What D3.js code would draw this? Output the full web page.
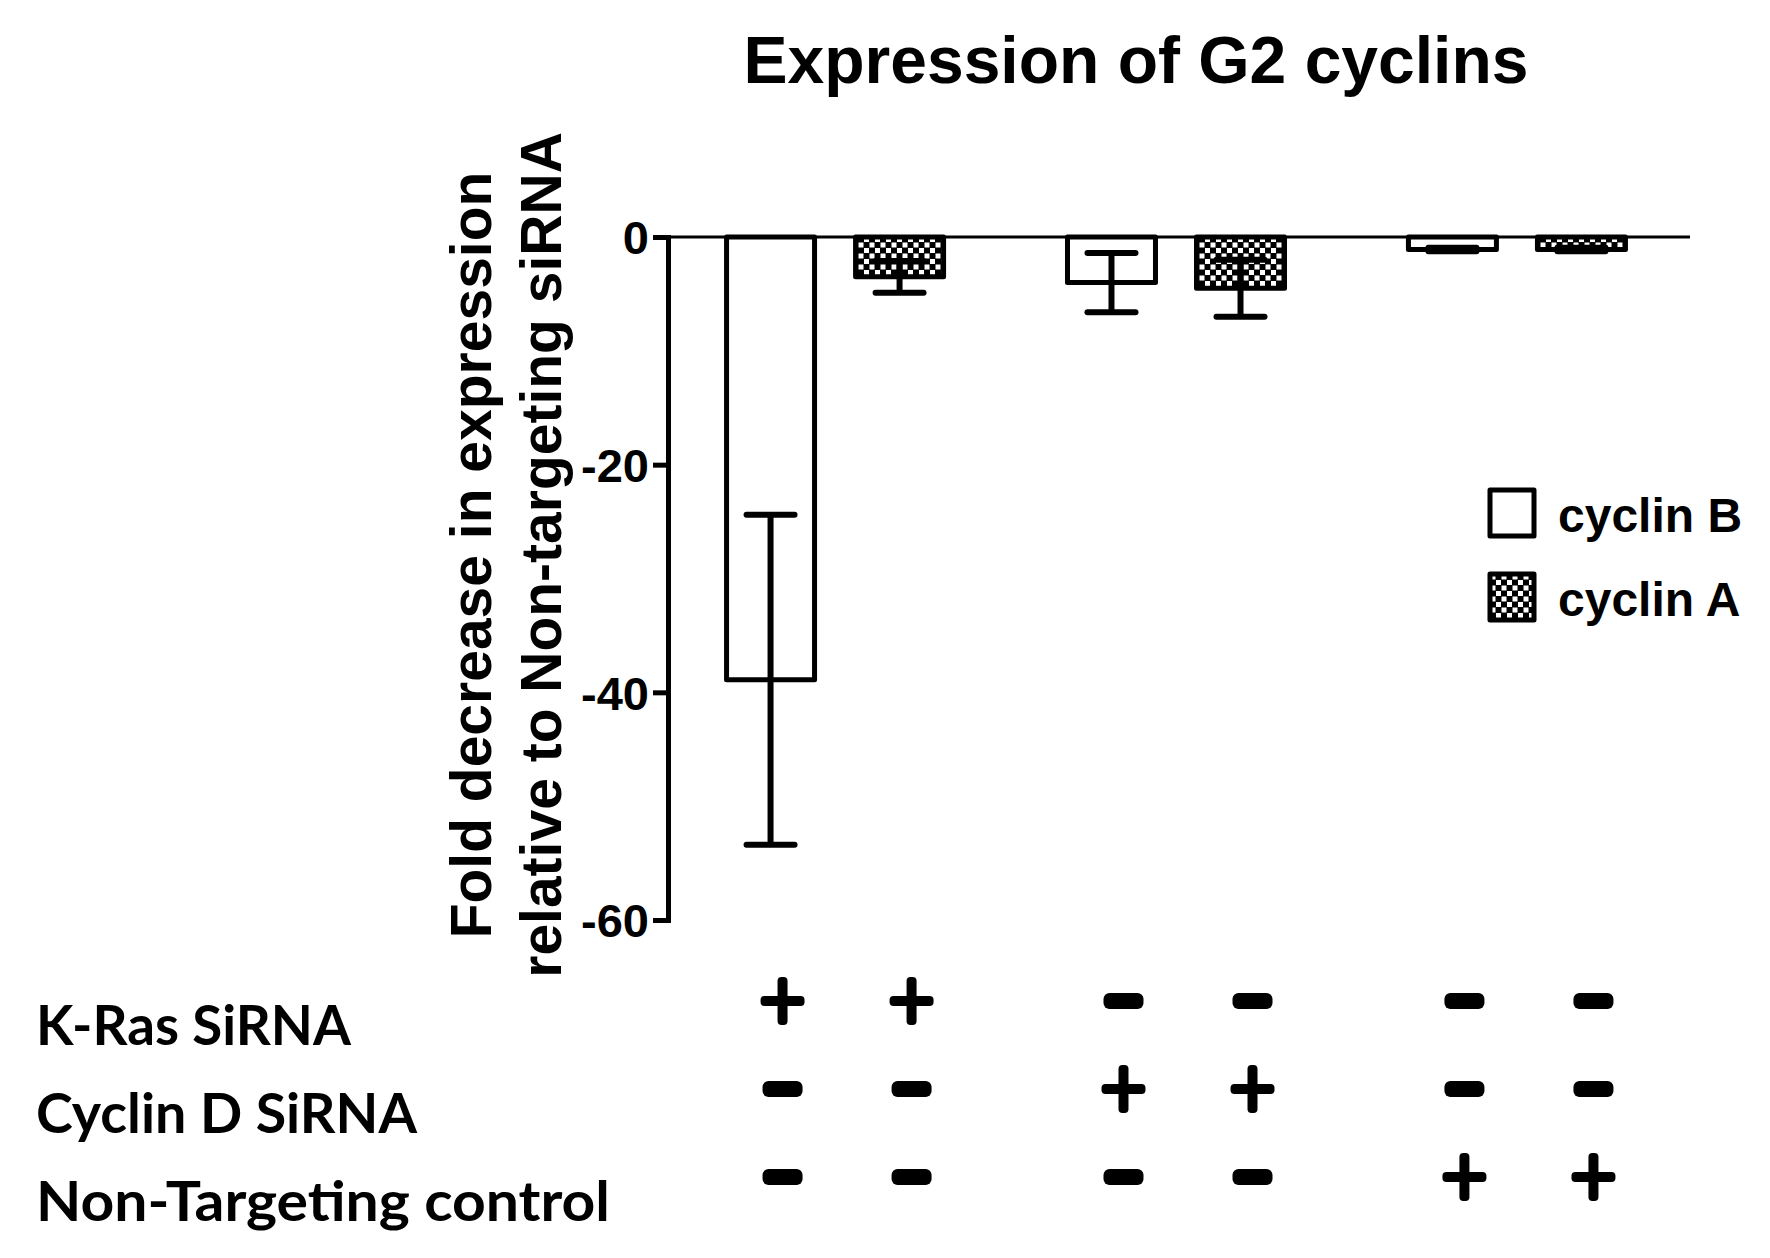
<!DOCTYPE html>
<html>
<head>
<meta charset="utf-8">
<script src="https://cdn.jsdelivr.net/npm/d3@7"></script>
<style>
  body { margin: 0; background: #fff; }
  text { fill: #000; }
</style>
</head>
<body>
<svg id="chart"></svg>
<script>
// values
const groups = ["K-Ras", "Cyclin D", "Non-Targeting"];
const series = ["cyclin B", "cyclin A"];
const cyclinB = [-38.9, -4.0, -1.1];
const cyclinBErr = [14.5, 2.6, 0.15];
const cyclinA = [-3.5, -4.5, -1.1];
const cyclinAErr = [1.4, 2.5, 0.15];
const yTicks = [0, -20, -40, -60];
const rowLabels = ["K-Ras SiRNA", "Cyclin D SiRNA", "Non-Targeting control"];
const kRasSigns = ["+", "+", "-", "-", "-", "-"];
const cyclinDSigns = ["-", "-", "+", "+", "-", "-"];
const controlSigns = ["-", "-", "-", "-", "+", "+"];

const W = 1770, H = 1258;

const svg = d3.select("#chart")
    .attr("width", W)
    .attr("height", H);

// checker fill for cyclin A
const pat = svg.append("defs").append("pattern")
    .attr("id", "checker")
    .attr("patternUnits", "userSpaceOnUse")
    .attr("width", 11)
    .attr("height", 11);
pat.append("rect").attr("width", 11).attr("height", 11).attr("fill", "#000");
pat.append("rect").attr("x", 0.5).attr("y", 0.5).attr("width", 5).attr("height", 5).attr("fill", "#fff");
pat.append("rect").attr("x", 6).attr("y", 6).attr("width", 5).attr("height", 5).attr("fill", "#fff");

const fills = { "cyclin B": "#fff", "cyclin A": "url(#checker)" };

let yScale = d3.scaleLinear()
    .domain([0, -60])
    .range([237, 920]);

let xGroup = d3.scaleBand()
    .domain(groups)
    .range([668, 1684])
    .paddingInner(0.2)
    .paddingOuter(0.09);

let xInner = d3.scaleBand()
    .domain(series)
    .range([0, xGroup.bandwidth()])
    .paddingInner(0.318)
    .paddingOuter(0.216);

// title
svg.append("text")
    .attr("x", 1136)
    .attr("y", 83)
    .attr("text-anchor", "middle")
    .style("font", "bold 66px 'Liberation Sans', Arial, sans-serif")
    .text("Expression of G2 cyclins");

// y axis title, two lines
const yTitle = svg.append("text")
    .attr("transform", "translate(491,555) rotate(-90)")
    .attr("text-anchor", "middle")
    .style("font", "bold 57px 'Liberation Sans', Arial, sans-serif");
yTitle.append("tspan").attr("x", 0).attr("y", 0).text("Fold decrease in expression");
yTitle.append("tspan").attr("x", 0).attr("y", 70).text("relative to Non-targeting siRNA");

// flatten data
const bars = [];
groups.forEach((g, i) => {
    bars.push({ group: g, series: "cyclin B", value: cyclinB[i], err: cyclinBErr[i] });
    bars.push({ group: g, series: "cyclin A", value: cyclinA[i], err: cyclinAErr[i] });
});
const barX = d => xGroup(d.group) + xInner(d.series);
const barMid = d => barX(d) + xInner.bandwidth() / 2;

// bars
svg.append("g")
    .selectAll("rect")
    .data(bars)
    .enter().append("rect")
    .attr("x", barX)
    .attr("y", yScale(0))
    .attr("width", xInner.bandwidth())
    .attr("height", d => yScale(d.value) - yScale(0))
    .attr("fill", d => fills[d.series])
    .attr("stroke", "#000")
    .attr("stroke-width", 5)
    .attr("stroke-linejoin", "round");

// error bars
const errG = svg.append("g")
    .attr("stroke", "#000")
    .attr("stroke-width", 6);
const capHalf = 24;
bars.forEach(d => {
    const cx = barMid(d);
    const y1 = yScale(d.value + d.err), y2 = yScale(d.value - d.err);
    errG.append("line").attr("x1", cx).attr("x2", cx).attr("y1", y1).attr("y2", y2);
    errG.append("line").attr("x1", cx - capHalf).attr("x2", cx + capHalf).attr("y1", y1).attr("y2", y1)
        .attr("stroke-linecap", "round");
    errG.append("line").attr("x1", cx - capHalf).attr("x2", cx + capHalf).attr("y1", y2).attr("y2", y2)
        .attr("stroke-linecap", "round");
});

// zero line
svg.append("line")
    .attr("x1", 668)
    .attr("x2", 1690)
    .attr("y1", yScale(0))
    .attr("y2", yScale(0))
    .attr("stroke", "#000")
    .attr("stroke-width", 3);

// y axis
const yAxis = svg.append("g")
    .attr("transform", "translate(668,0)")
    .call(d3.axisLeft(yScale)
        .tickValues(yTicks)
        .tickFormat(d => String(d))
        .tickSize(15)
        .tickSizeOuter(0)
        .tickPadding(4));
yAxis.select(".domain").attr("stroke-width", 5).attr("stroke-linecap", "square");
yAxis.selectAll(".tick line").attr("stroke-width", 5);
yAxis.selectAll(".tick text")
    .style("font", "bold 47px 'Liberation Sans', Arial, sans-serif")
    .attr("dy", "0.36em");

// legend
const legend = svg.append("g")
    .selectAll("g")
    .data(series)
    .enter().append("g")
    .attr("transform", (d, i) => "translate(1490," + (490 + i * 84) + ")");
legend.append("rect")
    .attr("width", 44)
    .attr("height", 46)
    .attr("fill", d => fills[d])
    .attr("stroke", "#000")
    .attr("stroke-width", 5)
    .attr("stroke-linejoin", "round");
legend.append("text")
    .attr("x", 68)
    .attr("y", 42)
    .style("font", "bold 48px 'Liberation Sans', Arial, sans-serif")
    .text(d => d);

// treatment table under the chart
const rowBase = [1045, 1133, 1221];
const rowWidth = [315, 381, 574];
const signRows = [kRasSigns, cyclinDSigns, controlSigns];

rowLabels.forEach((lab, r) => {
    svg.append("text")
        .attr("x", 36)
        .attr("y", rowBase[r])
        .attr("textLength", rowWidth[r])
        .attr("lengthAdjust", "spacingAndGlyphs")
        .style("font", "bold 55px Lato, 'Open Sans', sans-serif")
        .text(lab);

    const cy = rowBase[r] - 44;
    signRows[r].forEach((s, c) => {
        const cx = barMid(bars[c]) + 12;
        if (s === "+") {
            svg.append("rect")
                .attr("x", cx - 22).attr("y", cy - 5)
                .attr("width", 44).attr("height", 10)
                .attr("rx", 4);
            svg.append("rect")
                .attr("x", cx - 5).attr("y", cy - 24)
                .attr("width", 10).attr("height", 48)
                .attr("rx", 4);
        } else {
            svg.append("rect")
                .attr("x", cx - 20).attr("y", cy - 8)
                .attr("width", 40).attr("height", 16)
                .attr("rx", 6);
        }
    });
});
</script>
</body>
</html>
